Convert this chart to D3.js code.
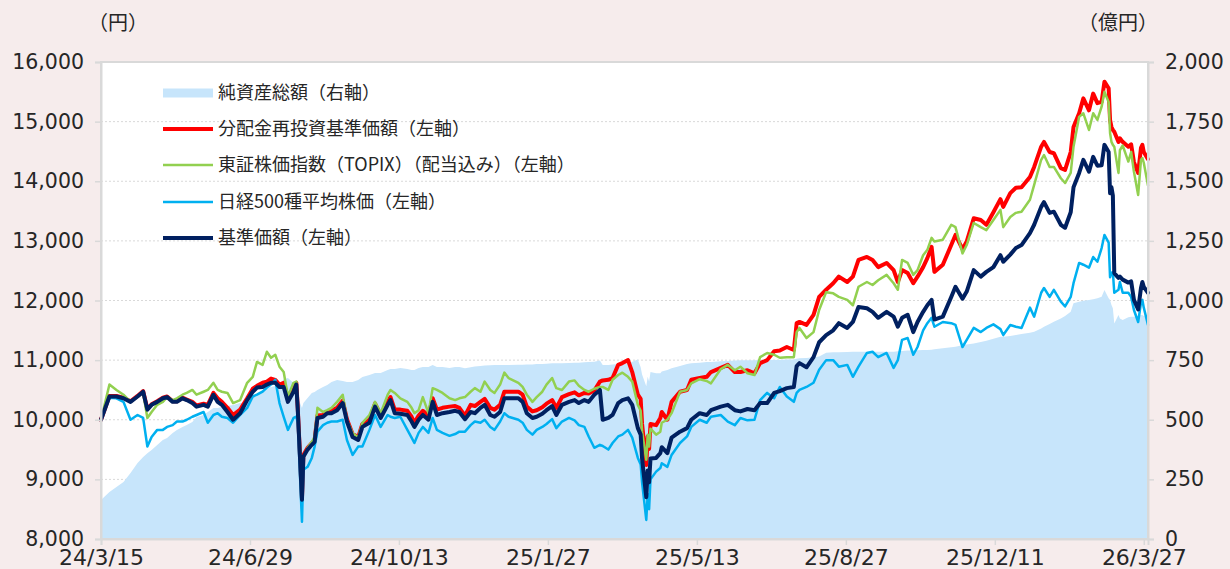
<!DOCTYPE html>
<html lang="ja">
<head>
<meta charset="utf-8">
<script src="https://cdn.jsdelivr.net/npm/d3@7"></script>
<style>
  html, body { margin: 0; padding: 0; background: #f6ecec; }
  svg { display: block; }
  text { font-family: "Noto Sans CJK JP", sans-serif; fill: #262626; }
  .axis text { font-family: "DejaVu Sans", sans-serif; fill: #262626; }
</style>
</head>
<body>
<div id="chart"></div>
<script>
// ---- data ----
const dates = [
  "2024-03-15","2024-03-21","2024-03-26","2024-03-31","2024-04-05","2024-04-10","2024-04-14","2024-04-17","2024-04-20","2024-04-24","2024-04-28","2024-05-01","2024-05-05","2024-05-08","2024-05-12","2024-05-15","2024-05-19","2024-05-22","2024-05-27","2024-05-30",
  "2024-06-03","2024-06-06","2024-06-09","2024-06-13","2024-06-17","2024-06-22","2024-06-27","2024-07-01","2024-07-04","2024-07-08","2024-07-11","2024-07-14","2024-07-17","2024-07-20","2024-07-23","2024-07-26","2024-07-30","2024-08-01","2024-08-02","2024-08-05",
  "2024-08-06","2024-08-09","2024-08-12","2024-08-14","2024-08-16","2024-08-20","2024-08-23","2024-08-26","2024-08-30","2024-09-03","2024-09-06","2024-09-10","2024-09-14","2024-09-17","2024-09-22","2024-09-26","2024-09-30","2024-10-05","2024-10-07","2024-10-10",
  "2024-10-14","2024-10-19","2024-10-22","2024-10-24","2024-10-27","2024-10-30","2024-11-03","2024-11-06","2024-11-09","2024-11-13","2024-11-18","2024-11-22","2024-11-25","2024-11-29","2024-12-03","2024-12-06","2024-12-10","2024-12-13","2024-12-17","2024-12-20",
  "2024-12-24","2024-12-27","2024-12-30","2025-01-06","2025-01-09","2025-01-12","2025-01-16","2025-01-19","2025-01-23","2025-01-26","2025-01-30","2025-02-02","2025-02-06","2025-02-11","2025-02-15","2025-02-18","2025-02-22","2025-02-25","2025-03-01","2025-03-05",
  "2025-03-07","2025-03-11","2025-03-14","2025-03-18","2025-03-21","2025-03-25","2025-03-28","2025-04-01","2025-04-03","2025-04-04","2025-04-07","2025-04-08","2025-04-09","2025-04-10","2025-04-14","2025-04-17","2025-04-18","2025-04-22","2025-04-25","2025-05-01",
  "2025-05-06","2025-05-09","2025-05-15","2025-05-20","2025-05-23","2025-05-30","2025-06-04","2025-06-09","2025-06-13","2025-06-18","2025-06-23","2025-06-27","2025-07-02","2025-07-07","2025-07-11","2025-07-16","2025-07-21","2025-07-23","2025-07-25","2025-07-30",
  "2025-08-04","2025-08-08","2025-08-13","2025-08-18","2025-08-22","2025-08-28","2025-09-01","2025-09-05","2025-09-11","2025-09-15","2025-09-19","2025-09-25","2025-09-30","2025-10-03","2025-10-06","2025-10-10","2025-10-14","2025-10-17","2025-10-21","2025-10-24",
  "2025-10-27","2025-10-29","2025-11-04","2025-11-10","2025-11-13","2025-11-18","2025-11-21","2025-11-26","2025-12-01","2025-12-05","2025-12-10","2025-12-15","2025-12-17","2025-12-22","2025-12-26","2025-12-30","2026-01-05","2026-01-08","2026-01-13","2026-01-15",
  "2026-01-19","2026-01-22","2026-01-27","2026-01-30","2026-02-03","2026-02-05","2026-02-09","2026-02-12","2026-02-16","2026-02-19","2026-02-22","2026-02-25","2026-02-27","2026-03-02","2026-03-03","2026-03-04","2026-03-05","2026-03-06","2026-03-09","2026-03-10",
  "2026-03-12","2026-03-16","2026-03-18","2026-03-20","2026-03-23","2026-03-25","2026-03-26","2026-03-27","2026-03-30"
];

// 基準価額（左軸）
const navValues = [
  10000,10390,10390,10360,10300,10390,10470,10170,10250,10300,10360,10380,10300,10300,10360,10330,10280,10220,10250,10220,
  10420,10300,10250,10130,10000,10110,10330,10470,10540,10550,10590,10620,10620,10550,10550,10300,10470,10590,10170,8660,
  9380,9500,9580,9630,10030,10050,10110,10110,10160,10280,9970,9710,9660,9880,9950,10220,10030,10250,10330,10110,
  10100,10080,9970,9880,10000,10080,10000,10300,10080,10110,10130,10150,10130,10010,10130,10110,10200,10250,10080,10050,
  10130,10360,10360,10360,10300,10110,10030,10050,10100,10160,10230,10080,10250,10300,10330,10280,10330,10300,10420,10500,
  10000,10030,10080,10280,10330,10360,10250,9860,9750,9350,8700,9150,8950,9350,9360,9440,9540,9440,9700,9800,
  9860,10000,10110,10080,10160,10220,10250,10160,10140,10180,10160,10280,10280,10450,10480,10530,10550,10900,10950,10880,
  11050,11300,11420,11500,11620,11540,11640,11890,11870,11810,11710,11810,11730,11560,11710,11760,11470,11640,11810,11920,
  12010,11680,11730,12060,12230,12030,12150,12510,12400,12480,12560,12760,12650,12770,12880,12930,13130,13270,13570,13650,
  13470,13490,13270,13220,13480,13900,14140,14360,14160,14410,14260,14270,14610,14490,13800,13900,13760,12460,12380,12400,
  12350,12300,12320,12010,11850,12210,12310,12230,12130
];

// 分配金再投資基準価額（左軸）
const reinvestValues = [
  10000,10400,10400,10370,10310,10400,10480,10180,10260,10310,10370,10390,10310,10310,10370,10340,10300,10240,10270,10250,
  10450,10360,10300,10200,10080,10170,10360,10520,10570,10620,10640,10690,10670,10590,10620,10360,10520,10620,10200,8690,
  9410,9530,9610,9660,10070,10080,10130,10150,10200,10320,10010,9760,9710,9930,10000,10270,10080,10300,10380,10170,
  10170,10150,10050,9950,10070,10150,10070,10360,10170,10200,10220,10230,10200,10070,10250,10230,10300,10350,10200,10170,
  10250,10470,10470,10470,10420,10220,10140,10160,10210,10270,10330,10200,10380,10430,10460,10410,10450,10440,10490,10640,
  10660,10670,10700,10920,10950,11000,10800,10420,10350,9930,9240,9720,9510,9930,9910,10030,10130,10000,10300,10470,
  10500,10670,10700,10720,10800,10870,10920,10800,10800,10830,10780,10950,11000,11150,11160,11220,11170,11620,11640,11590,
  11760,12060,12180,12290,12400,12310,12400,12680,12730,12680,12560,12630,12510,12310,12510,12460,12290,12400,12560,12710,
  12900,12480,12600,12930,13100,12860,12990,13380,13350,13270,13480,13700,13570,13800,13890,13900,14070,14240,14580,14660,
  14490,14470,14220,14190,14490,14910,15140,15390,15190,15470,15310,15330,15670,15560,15030,14910,14860,14830,14660,14720,
  14660,14580,14620,14320,14140,14560,14610,14490,14370
];

// 東証株価指数（TOPIX）（配当込み）（左軸）
const topixValues = [
  10000,10590,10500,10420,10300,10390,10450,10030,10130,10250,10300,10380,10330,10360,10420,10450,10500,10420,10470,10500,
  10620,10500,10470,10450,10280,10330,10620,10720,10970,10920,11140,11040,11090,10890,10800,10390,10620,10640,10220,8880,
  9380,9530,9630,9710,10200,10130,10160,10200,10300,10420,10000,9780,9700,9950,10080,10300,10110,10420,10500,10450,
  10360,10300,10200,10110,10160,10380,10110,10530,10500,10450,10360,10330,10360,10380,10470,10530,10470,10640,10500,10450,
  10590,10790,10700,10620,10550,10420,10300,10380,10470,10590,10700,10530,10500,10640,10660,10570,10500,10470,10520,10550,
  10550,10500,10670,10750,10790,10720,10640,10250,10150,9800,9330,9750,9550,9850,9750,9800,9950,10000,10110,10470,
  10500,10610,10680,10650,10610,10850,10920,10830,10890,10780,10750,11050,11120,11090,11040,11050,11050,11470,11540,11370,
  11470,11840,12140,12120,12060,12010,11920,12230,12310,12260,12340,12430,12290,12180,12680,12630,12430,12510,12760,12850,
  13050,12990,13020,13270,13230,12790,12930,13300,13230,13180,13350,13520,13230,13400,13470,13490,13690,13940,14360,14440,
  14240,14240,14050,13970,14140,14580,15080,15140,14860,15140,15030,15250,15500,15330,14810,14660,14610,14580,14140,14520,
  14600,14330,14490,14160,13770,14360,14390,14310,13930
];

// 日経500種平均株価（左軸）
const nikkei500Values = [
  10000,10370,10360,10300,10000,10080,10030,9550,9710,9830,9830,9880,9910,9970,9970,10000,10050,10080,10130,9950,
  10080,10110,10050,10030,9950,10080,10200,10390,10420,10470,10540,10590,10670,10280,10050,9830,10030,10050,9950,8290,
  9160,9210,9360,9550,9800,9910,9950,9970,9970,10000,9660,9410,9550,9550,9830,10080,9880,10080,10050,10030,
  10050,9830,9700,9610,9780,9880,9780,10030,9830,9780,9730,9760,9800,9800,9910,9970,9950,10000,9880,9830,
  9970,10110,10050,10000,9950,9830,9750,9830,9880,9930,10010,9860,9970,10030,9990,9910,9880,9720,9530,9580,
  9560,9500,9610,9720,9750,9830,9700,9360,9250,8950,8320,8750,8500,9000,9130,9190,9270,9210,9410,9610,
  9720,9880,10000,9950,10050,10080,9970,9910,10030,9990,10000,10330,10450,10360,10550,10390,10300,10450,10500,10550,
  10620,10840,11000,11000,10890,10920,10720,10890,11120,11140,11050,11120,10870,11000,11340,11370,11090,11220,11500,11620,
  11710,11560,11640,11620,11590,11220,11340,11540,11470,11540,11600,11520,11420,11590,11560,11540,11880,11730,12130,12210,
  12060,12180,11980,11900,12060,12290,12630,12600,12550,12730,12650,12880,13100,12970,12390,12460,12480,12130,12180,12310,
  12130,12130,12060,11840,11640,11960,12010,11880,11590
];

// 純資産総額（右軸, 億円）
const aumValues = [
  164,197,218,239,277,319,344,360,373,394,415,424,444,457,470,478,491,512,520,533,
  549,549,553,558,562,570,574,591,612,625,633,637,641,646,670,675,654,637,595,549,
  570,591,612,616,625,637,646,658,667,663,658,658,667,679,688,696,696,709,713,713,
  717,713,709,709,717,721,721,730,721,721,717,721,721,716,720,723,725,727,728,730,
  730,730,730,731,731,732,732,734,734,735,737,737,737,738,739,739,741,742,743,748,
  730,730,732,734,735,737,743,753,720,690,640,680,660,700,695,695,702,709,716,725,
  734,737,739,742,742,745,746,748,749,749,749,751,751,751,751,753,753,756,758,759,
  762,765,781,783,783,784,785,785,785,785,785,785,785,787,788,790,790,791,792,792,
  794,796,800,804,806,812,816,820,826,831,840,848,848,851,855,860,865,869,883,890,
  901,911,925,935,953,988,995,999,1002,1005,1009,1016,1044,1009,1002,981,967,904,939,925,
  918,930,932,932,935,939,939,935,932
];

const xTickDates = ["2024-03-15","2024-06-29","2024-10-13","2025-01-27","2025-05-13","2025-08-27","2025-12-11","2026-03-27"];
const leftTicks = [8000, 9000, 10000, 11000, 12000, 13000, 14000, 15000, 16000];
const rightTicks = [0, 250, 500, 750, 1000, 1250, 1500, 1750, 2000];
const legendLabels = [
  "純資産総額（右軸）",
  "分配金再投資基準価額（左軸）",
  "東証株価指数（TOPIX）（配当込み）（左軸）",
  "日経500種平均株価（左軸）",
  "基準価額（左軸）"
];

// ---- layout ----
const width = 1230, height = 569;
const plot = { left: 101, right: 1148, top: 62, bottom: 539 };
const gridColor = "#d9d9d9";

const parse = d3.timeParse("%Y-%m-%d");
const rows = dates.map((d, i) => ({
  date: parse(d),
  nav: navValues[i],
  reinvest: reinvestValues[i],
  topix: topixValues[i],
  n500: nikkei500Values[i],
  aum: aumValues[i]
}));

const x = d3.scaleTime()
  .domain([parse("2024-03-15"), parse("2026-03-30")])
  .range([plot.left, plot.right]);
const yL = d3.scaleLinear().domain([8000, 16000]).range([plot.bottom, plot.top]);
const yR = d3.scaleLinear().domain([0, 2000]).range([plot.bottom, plot.top]);

const svg = d3.select("#chart").append("svg")
  .attr("width", width)
  .attr("height", height);

svg.append("rect")
  .attr("width", width).attr("height", height)
  .attr("fill", "#f6ecec");

svg.append("rect")
  .attr("x", plot.left).attr("y", plot.top)
  .attr("width", plot.right - plot.left)
  .attr("height", plot.bottom - plot.top)
  .attr("fill", "#ffffff");

// gridlines (dotted)
svg.append("g")
  .selectAll("line")
  .data(leftTicks.slice(1, -1))
  .enter()
  .append("line")
  .attr("x1", plot.left).attr("x2", plot.right)
  .attr("y1", d => yL(d)).attr("y2", d => yL(d))
  .attr("stroke", gridColor)
  .attr("stroke-width", 1)
  .attr("stroke-dasharray", "2,2");

// 純資産総額 area
const area = d3.area()
  .x(d => x(d.date))
  .y0(yR(0))
  .y1(d => yR(d.aum));
svg.append("path")
  .datum(rows)
  .attr("d", area)
  .attr("fill", "#c7e5fb");

// lines, drawn in legend order so the later ones sit on top
const series = [
  { key: "reinvest", color: "#ff0000", width: 4 },
  { key: "topix", color: "#92d050", width: 2.5 },
  { key: "n500", color: "#00b0f0", width: 2.5 },
  { key: "nav", color: "#002060", width: 4 }
];
series.forEach(s => {
  const line = d3.line()
    .x(d => x(d.date))
    .y(d => yL(d[s.key]));
  svg.append("path")
    .datum(rows)
    .attr("d", line)
    .attr("fill", "none")
    .attr("stroke", s.color)
    .attr("stroke-width", s.width)
    .attr("stroke-linejoin", "round")
    .attr("stroke-linecap", "round");
});

// plot frame
svg.append("rect")
  .attr("x", plot.left).attr("y", plot.top)
  .attr("width", plot.right - plot.left)
  .attr("height", plot.bottom - plot.top)
  .attr("fill", "none")
  .attr("stroke", gridColor)
  .attr("stroke-width", 2);

// axes
function styleAxis(g) {
  g.select(".domain").attr("stroke", gridColor).attr("stroke-width", 2);
  g.selectAll(".tick line").attr("stroke", gridColor).attr("stroke-width", 1.5);
  g.selectAll(".tick text").attr("fill", "#262626");
}

svg.append("g")
  .attr("class", "axis")
  .attr("transform", `translate(${plot.left},0)`)
  .call(d3.axisLeft(yL).tickValues(leftTicks).tickSize(6).tickPadding(11).tickFormat(d3.format(",")))
  .call(styleAxis)
  .selectAll("text").style("font-size", "20.5px");

svg.append("g")
  .attr("class", "axis")
  .attr("transform", `translate(${plot.right},0)`)
  .call(d3.axisRight(yR).tickValues(rightTicks).tickSize(6).tickPadding(11).tickFormat(d3.format(",")))
  .call(styleAxis)
  .selectAll("text").style("font-size", "20.5px");

svg.append("g")
  .attr("class", "axis")
  .attr("transform", `translate(0,${plot.bottom})`)
  .call(d3.axisBottom(x).tickValues(xTickDates.map(parse)).tickSize(6).tickPadding(4).tickFormat(d3.timeFormat("%y/%-m/%-d")))
  .call(styleAxis)
  .selectAll("text").style("font-size", "22px");

// unit labels
svg.append("text")
  .attr("x", 88).attr("y", 30)
  .style("font-size", "20px")
  .text("（円）");
svg.append("text")
  .attr("x", 1158).attr("y", 30)
  .attr("text-anchor", "end")
  .style("font-size", "20px")
  .text("（億円）");

// legend
const legendY = [93, 129, 165, 202, 238];
const legend = svg.append("g");
legend.append("rect")
  .attr("x", 163).attr("y", legendY[0] - 4.5)
  .attr("width", 50).attr("height", 9)
  .attr("fill", "#c7e5fb");
series.forEach((s, i) => {
  legend.append("line")
    .attr("x1", 163).attr("x2", 213)
    .attr("y1", legendY[i + 1]).attr("y2", legendY[i + 1])
    .attr("stroke", s.color)
    .attr("stroke-width", s.width);
});
legend.selectAll("text")
  .data(legendLabels)
  .enter()
  .append("text")
  .attr("x", 218)
  .attr("y", (d, i) => legendY[i])
  .attr("dy", "0.36em")
  .style("font-size", "18px")
  .text(d => d);
</script>
</body>
</html>
